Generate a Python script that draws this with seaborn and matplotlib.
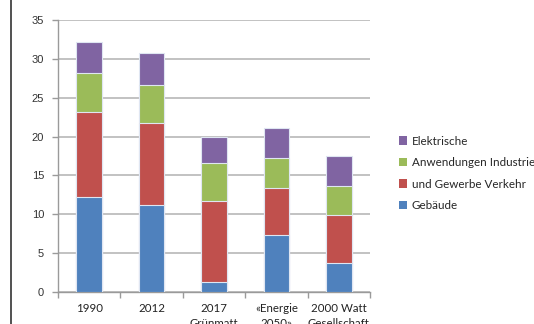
import numpy as np
import pandas as pd
import seaborn as sns
import matplotlib
matplotlib.use("Agg")
import matplotlib.pyplot as plt
from matplotlib.lines import Line2D
from matplotlib.patches import Patch

categories = ["1990", "2012", "2017\nGrünmatt", "«Energie\n2050»", "2000 Watt\nGesellschaft"]
gebaeude = [12.2, 11.2, 1.3, 7.3, 3.7]
verkehr = [11.0, 10.5, 10.4, 6.1, 6.2]
industrie = [5.0, 5.0, 4.9, 3.9, 3.8]
elektrische = [4.0, 4.0, 3.3, 3.8, 3.8]
series_labels = ["Gebäude", "und Gewerbe Verkehr", "Anwendungen Industrie", "Elektrische"]
colors = ["#4f81bd", "#c0504d", "#9bbb59", "#8064a2"]
yticks = [0, 5, 10, 15, 20, 25, 30, 35]

sns.set_theme(style="white")
plt.rcParams["font.family"] = ["Liberation Sans", "DejaVu Sans"]

fig = plt.figure(figsize=(5.34, 3.24), dpi=100)
ax = fig.add_axes([58/534, 1-292/324, (370-58)/534, (292-20)/324])

layers = [gebaeude, verkehr, industrie, elektrische]
cum = np.cumsum(np.array(layers), axis=0)
df = pd.DataFrame({"cat": categories})
for i in range(len(layers) - 1, -1, -1):
    df["v"] = cum[i]
    sns.barplot(data=df, x="cat", y="v", color=colors[i], saturation=1,
                width=0.41, edgecolor="#dfe6f2", linewidth=0.8, ax=ax, zorder=3)

ax.set_xlabel("")
ax.set_ylabel("")
ax.set_ylim(0, 35)
ax.set_xlim(-0.5, 4.5)
ax.set_yticks(yticks)
ax.set_yticklabels([str(t) for t in yticks], fontsize=8, color="#333333")
ax.yaxis.grid(True, color="#bdbdbd", linewidth=1.3, zorder=0)
ax.set_axisbelow(True)
for s in ["top", "right"]:
    ax.spines[s].set_visible(False)
for s in ["left", "bottom"]:
    ax.spines[s].set_color("#9a9a9a")
    ax.spines[s].set_linewidth(1.0)
ax.tick_params(axis="y", length=4, color="#9a9a9a", width=1.0, pad=6, left=True)
ax.set_xticks(range(len(categories)))
ax.set_xticklabels(categories, fontsize=8.3, color="#222222", linespacing=1.45,
                   family=["Lato", "DejaVu Sans"])
ax.tick_params(axis="x", length=0, pad=8)
ax.set_xticks(np.arange(-0.5, 5.0, 1.0), minor=True)
ax.tick_params(axis="x", which="minor", length=4, color="#9a9a9a", width=1.0, bottom=True)

handles = [Patch(facecolor=colors[i], edgecolor="none") for i in range(3, -1, -1)]
labels = [series_labels[i] for i in range(3, -1, -1)]
leg = fig.legend(handles, labels, loc="upper left", bbox_to_anchor=(394/534, 1-131/324),
                 frameon=False, handlelength=0.75, handleheight=0.75,
                 handletextpad=0.35, labelspacing=0.9, borderaxespad=0,
                 prop={"family": ["Lato", "DejaVu Sans"], "size": 8.4})

fig.add_artist(Line2D([10.5/534, 10.5/534], [0, 1], color="#333333", linewidth=1.2,
                      transform=fig.transFigure))

fig.savefig("out.png", dpi=100)
